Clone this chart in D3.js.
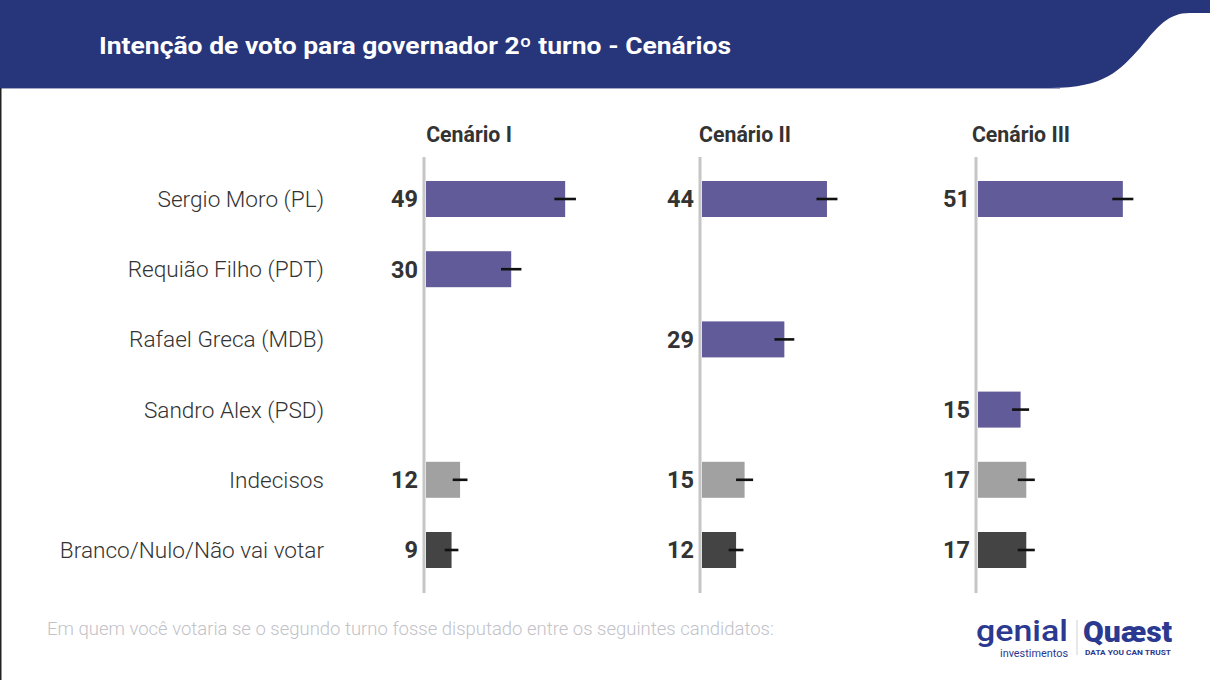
<!DOCTYPE html>
<html><head><meta charset="utf-8">
<script src="https://cdn.jsdelivr.net/npm/d3@7"></script>
<style>
html,body{margin:0;padding:0;background:#fff;}
svg{display:block;font-family:Roboto,"Noto Sans",sans-serif;}
</style></head>
<body>
<script>
const title = "Intenção de voto para governador 2º turno - Cenários";
const footnote = "Em quem você votaria se o segundo turno fosse disputado entre os seguintes candidatos:";
const candidates = ["Sergio Moro (PL)", "Requião Filho (PDT)", "Rafael Greca (MDB)", "Sandro Alex (PSD)", "Indecisos", "Branco/Nulo/Não vai votar"];
const scenarios = ["Cenário I", "Cenário II", "Cenário III"];
// values per scenario (null = candidate not in scenario)
const valuesI   = [49, 30, null, null, 12, 9];
const valuesII  = [44, null, 29, null, 15, 12];
const valuesIII = [51, null, null, 15, 17, 17];
// margin of error (points) read from the whiskers
const errorsI   = [3.8, 3.6, null, null, 2.6, 2.4];
const errorsII  = [3.7, null, 3.5, null, 3.0, 2.6];
const errorsIII = [3.7, null, null, 3.0, 3.0, 3.0];
const categoryType = ["cand", "cand", "cand", "cand", "undecided", "blank"];

const W = 1210, H = 680;
const colors = {cand: "#615c99", undecided: "#a1a1a1", blank: "#444444"};
const allValues = [valuesI, valuesII, valuesIII];
const allErrors = [errorsI, errorsII, errorsIII];

const svg = d3.select("body").append("svg").attr("width", W).attr("height", H);

// header
svg.append("rect").attr("x", 0).attr("y", 0).attr("width", W).attr("height", 88).attr("fill", "#27357a");
svg.append("path")
  .attr("d", "M1050,88 C1105,88 1120,70 1140,48 C1158,26 1168,13 1190,13 L1210,13 L1210,88 Z")
  .attr("fill", "#fff");
svg.append("line").attr("x1", 0).attr("x2", 1060).attr("y1", 88.5).attr("y2", 88.5)
  .attr("stroke", "#a3a8c6").attr("stroke-width", 1);
svg.append("rect").attr("x", 0).attr("y", 88).attr("width", 1.5).attr("height", H - 88).attr("fill", "#222");
svg.append("text").attr("x", 99).attr("y", 54)
  .attr("fill", "#fff").attr("font-size", 23).attr("font-weight", 700)
  .attr("textLength", 632).attr("lengthAdjust", "spacingAndGlyphs")
  .text(title);

// scales
const y = d3.scalePoint().domain(candidates).range([199, 550]);
const barH = 36;
const panelX = d3.scalePoint().domain(scenarios).range([426, 978]);
const x = d3.scaleLinear().domain([0, 100]).range([0, 284]);

// category labels
svg.append("g").selectAll("text").data(candidates).join("text")
  .attr("x", 324).attr("y", d => y(d)).attr("dy", "0.35em")
  .attr("text-anchor", "end").attr("font-size", 22.6).attr("font-weight", 300)
  .attr("fill", "#333").text(d => d);

scenarios.forEach((sc, si) => {
  const g = svg.append("g").attr("transform", `translate(${panelX(sc)},0)`);
  g.append("text").attr("x", 43).attr("y", 142).attr("text-anchor", "middle")
    .attr("font-size", 21.3).attr("font-weight", 700).attr("fill", "#333").text(sc);
  g.append("line").attr("x1", -2).attr("x2", -2).attr("y1", 157).attr("y2", 593)
    .attr("stroke", "#c6c6c6").attr("stroke-width", 3);
  const rows = candidates.map((c, i) => ({c, v: allValues[si][i], e: allErrors[si][i], t: categoryType[i]}))
    .filter(d => d.v !== null);
  g.selectAll("rect.bar").data(rows).join("rect").attr("class", "bar")
    .attr("x", x(0)).attr("y", d => y(d.c) - barH / 2)
    .attr("width", d => x(d.v) - x(0)).attr("height", barH)
    .attr("fill", d => colors[d.t]);
  g.selectAll("line.err").data(rows).join("line").attr("class", "err")
    .attr("x1", d => x(d.v - d.e)).attr("x2", d => x(d.v + d.e))
    .attr("y1", d => y(d.c)).attr("y2", d => y(d.c))
    .attr("stroke", "#111").attr("stroke-width", 2.6).attr("stroke-linecap", "butt");
  g.selectAll("text.val").data(rows).join("text").attr("class", "val")
    .attr("x", -8).attr("y", d => y(d.c)).attr("dy", "0.36em")
    .attr("text-anchor", "end").attr("font-size", 23.5).attr("font-weight", 700)
    .attr("fill", "#333").text(d => d.v);
});

// footnote
svg.append("text").attr("x", 47).attr("y", 635).attr("font-size", 18.5).attr("font-weight", 300)
  .attr("fill", "#c2c2c8").text(footnote);

// logos
const logo = svg.append("g").attr("fill", "#2b3990");
logo.append("text").attr("x", 976).attr("y", 641).attr("font-size", 30).attr("font-weight", 500)
  .attr("textLength", 92).attr("lengthAdjust", "spacingAndGlyphs").text("genial");
logo.append("text").attr("x", 1000).attr("y", 657).attr("font-size", 10).attr("font-weight", 400)
  .attr("textLength", 68).attr("lengthAdjust", "spacingAndGlyphs").text("investimentos");
svg.append("line").attr("x1", 1077).attr("x2", 1077).attr("y1", 620).attr("y2", 655)
  .attr("stroke", "#d0d0d0").attr("stroke-width", 1);
logo.append("text").attr("x", 1083).attr("y", 642).attr("font-size", 29).attr("font-weight", 900)
  .attr("textLength", 89).attr("lengthAdjust", "spacingAndGlyphs").text("Quæst");
logo.append("text").attr("x", 1085).attr("y", 655).attr("font-size", 8).attr("font-weight", 700)
  .attr("textLength", 86).attr("lengthAdjust", "spacingAndGlyphs").text("DATA YOU CAN TRUST");
</script>
</body></html>
